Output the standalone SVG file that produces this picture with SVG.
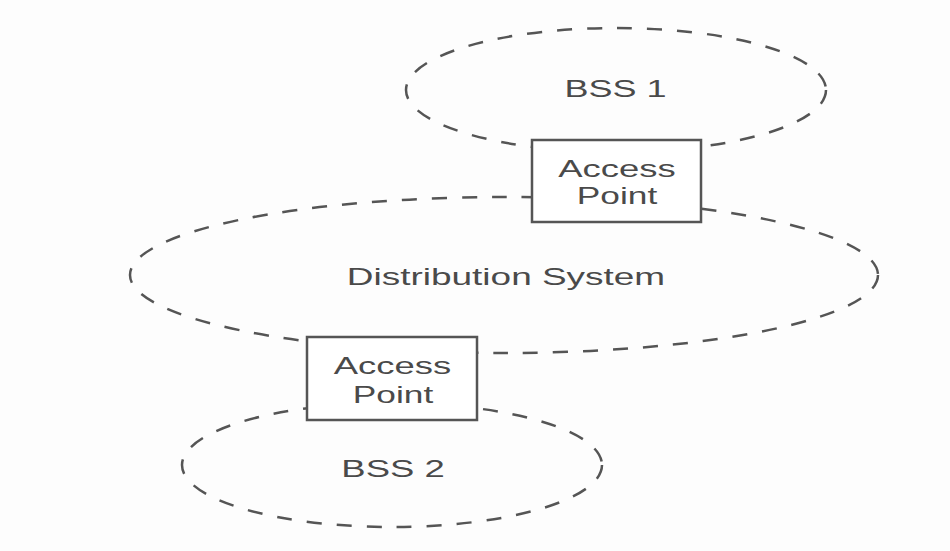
<svg xmlns="http://www.w3.org/2000/svg" width="950" height="551" viewBox="0 0 950 551">
  <style>
    .area { fill: none; stroke: #555; stroke-width: 2.5; stroke-dasharray: 15 15; }
    .ap { fill: #fff; stroke: #555; stroke-width: 2.5; }
    .lbl { font-family: "Liberation Sans", Arial, sans-serif; font-size: 24px; fill: #4a4a4a; text-anchor: middle; }
  </style>
  <rect x="0" y="0" width="950" height="551" fill="#fdfdfd"/>

  <!-- Distribution System -->
  <g id="distribution-system">
    <ellipse class="area" cx="504" cy="275" rx="374" ry="78"/>
    <text class="lbl" transform="translate(506 285) scale(1.54 1)">Distribution System</text>
  </g>

  <!-- Basic service set 1 -->
  <g id="bss1">
    <ellipse class="area" cx="616" cy="90" rx="210" ry="62"/>
    <text class="lbl" transform="translate(615.5 97) scale(1.5 1)">BSS 1</text>
  </g>

  <!-- Basic service set 2 -->
  <g id="bss2">
    <ellipse class="area" cx="392" cy="465" rx="210" ry="62"/>
    <text class="lbl" transform="translate(393 477) scale(1.52 1)">BSS 2</text>
  </g>

  <!-- Access point joining BSS 1 to the distribution system -->
  <g id="access-point-1">
    <rect class="ap" x="532" y="140" width="169" height="82"/>
    <text class="lbl" transform="translate(617 177) scale(1.52 1)">Access</text>
    <text class="lbl" transform="translate(617 204) scale(1.47 1)">Point</text>
  </g>

  <!-- Access point joining BSS 2 to the distribution system -->
  <g id="access-point-2">
    <rect class="ap" x="307" y="337" width="170" height="83"/>
    <text class="lbl" transform="translate(392.5 374) scale(1.52 1)">Access</text>
    <text class="lbl" transform="translate(393 403) scale(1.47 1)">Point</text>
  </g>
</svg>
